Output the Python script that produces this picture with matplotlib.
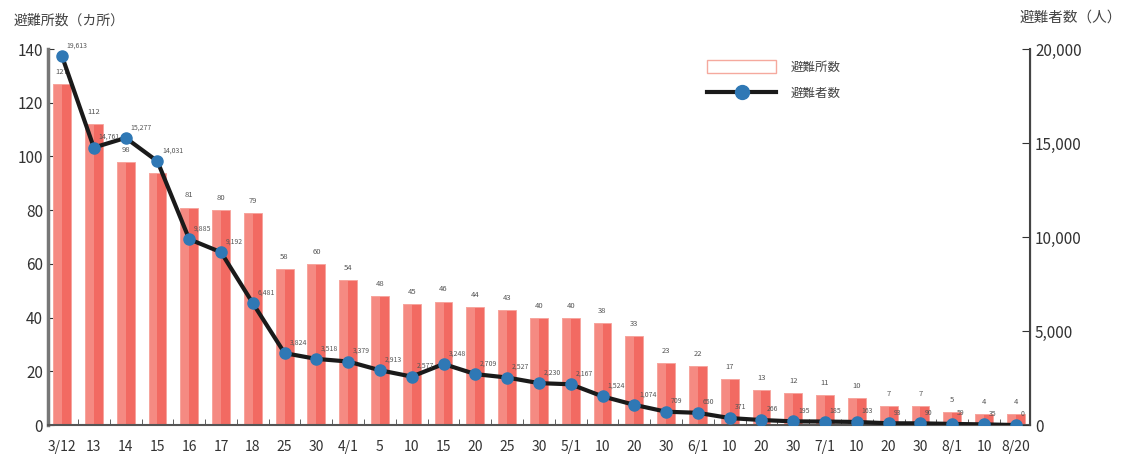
import numpy as np
import matplotlib
matplotlib.use("Agg")
import matplotlib.pyplot as plt
from matplotlib.patches import Rectangle
from matplotlib.lines import Line2D

plt.rcParams['font.family'] = ['Noto Sans CJK JP', 'DejaVu Sans']

# 日付ラベル
dates = ['3/12', '13', '14', '15', '16', '17', '18', '25', '30', '4/1', '5', '10', '15', '20', '25',
         '30', '5/1', '10', '20', '30', '6/1', '10', '20', '30', '7/1', '10', '20', '30', '8/1', '10', '8/20']
# 避難所数 (カ所)
shelters = [127, 112, 98, 94, 81, 80, 79, 58, 60, 54, 48, 45, 46, 44, 43, 40,
            40, 38, 33, 23, 22, 17, 13, 12, 11, 10, 7, 7, 5, 4, 4]
# 避難者数 (人)
evacuees = [19613, 14761, 15277, 14031, 9885, 9192, 6481, 3824, 3518, 3379, 2913, 2577, 3248, 2709, 2527,
            2230, 2167, 1524, 1074, 709, 650, 371, 266, 195, 185, 163, 93, 90, 59, 35, 0]

x = np.arange(len(dates))

fig = plt.figure(figsize=(11.37, 4.63), dpi=100)
ax = fig.add_axes([0.042, 0.082, 0.864, 0.812])
ax2 = ax.twinx()

ax.bar(x, shelters, width=0.56, color='#f26a62', edgecolor='#f6a39c', linewidth=0.6, zorder=2)
# 左側を明るく (グラデーション風)
ax.bar(x - 0.14, shelters, width=0.28, color='#f8a59d', alpha=0.55, linewidth=0, zorder=2)
for xi, v in zip(x, shelters):
    ax.text(xi, v + 3, str(v), ha='center', va='bottom', fontsize=5.5, color='#555555', zorder=5)

ax2.plot(x, evacuees, color='#1a1a1a', lw=3, zorder=3)
ax2.plot(x, evacuees, 'o', color='#2f78b5', ms=8, zorder=4)
for xi, v in zip(x, evacuees):
    ax2.text(xi + 0.15, v + 350, f'{v:,}', ha='left', va='bottom', fontsize=5, color='#555555', zorder=5)

ax.set_xlim(-0.45, 30.45)
ax.set_ylim(0, 140)
ax2.set_ylim(0, 20000)
ax.set_yticks(range(0, 141, 20))
ax2.set_yticks(range(0, 20001, 5000))
ax2.set_yticklabels([f'{v:,}' for v in range(0, 20001, 5000)])
ax.set_xticks(x)
ax.set_xticklabels(dates)
ax.set_xticks(x[:-1] + 0.5, minor=True)

for a in (ax, ax2):
    a.spines['top'].set_visible(False)
ax.spines['left'].set_color('#777777')
ax.spines['left'].set_linewidth(2.5)
ax.spines['bottom'].set_color('#555555')
ax.spines['bottom'].set_linewidth(1.5)
ax2.spines['right'].set_color('#444444')
ax2.spines['right'].set_linewidth(1.5)
ax2.spines['left'].set_visible(False)
ax2.spines['bottom'].set_visible(False)

ax.tick_params(axis='y', labelsize=11, colors='#333333', length=4, direction='in')
ax.tick_params(axis='x', labelsize=10, colors='#333333', length=0, pad=11)
ax.tick_params(axis='x', which='minor', length=4, direction='in', color='#444444')
ax2.tick_params(axis='y', labelsize=11, colors='#333333', length=6, direction='in')

fig.text(0.012, 0.955, '避難所数（カ所）', fontsize=10, color='#444444', va='center')
fig.text(0.897, 0.962, '避難者数（人）', fontsize=10.5, color='#444444', va='center')

# 凡例
handles = [Rectangle((0, 0), 1, 1, facecolor='white', edgecolor='#f5a99e', lw=1),
           Line2D([0], [0], color='#1a1a1a', lw=3, marker='o', ms=10, markerfacecolor='#2f78b5',
                  markeredgecolor='#2f78b5')]
leg = ax.legend(handles, ['避難所数', '避難者数'], loc='upper left', bbox_to_anchor=(0.66, 1.0),
                frameon=False, fontsize=9, handlelength=5.5, handleheight=1.2, labelspacing=1.0,
                handletextpad=1.2)
for t in leg.get_texts():
    t.set_color('#444444')

fig.savefig('out.png', dpi=100, facecolor='white')
